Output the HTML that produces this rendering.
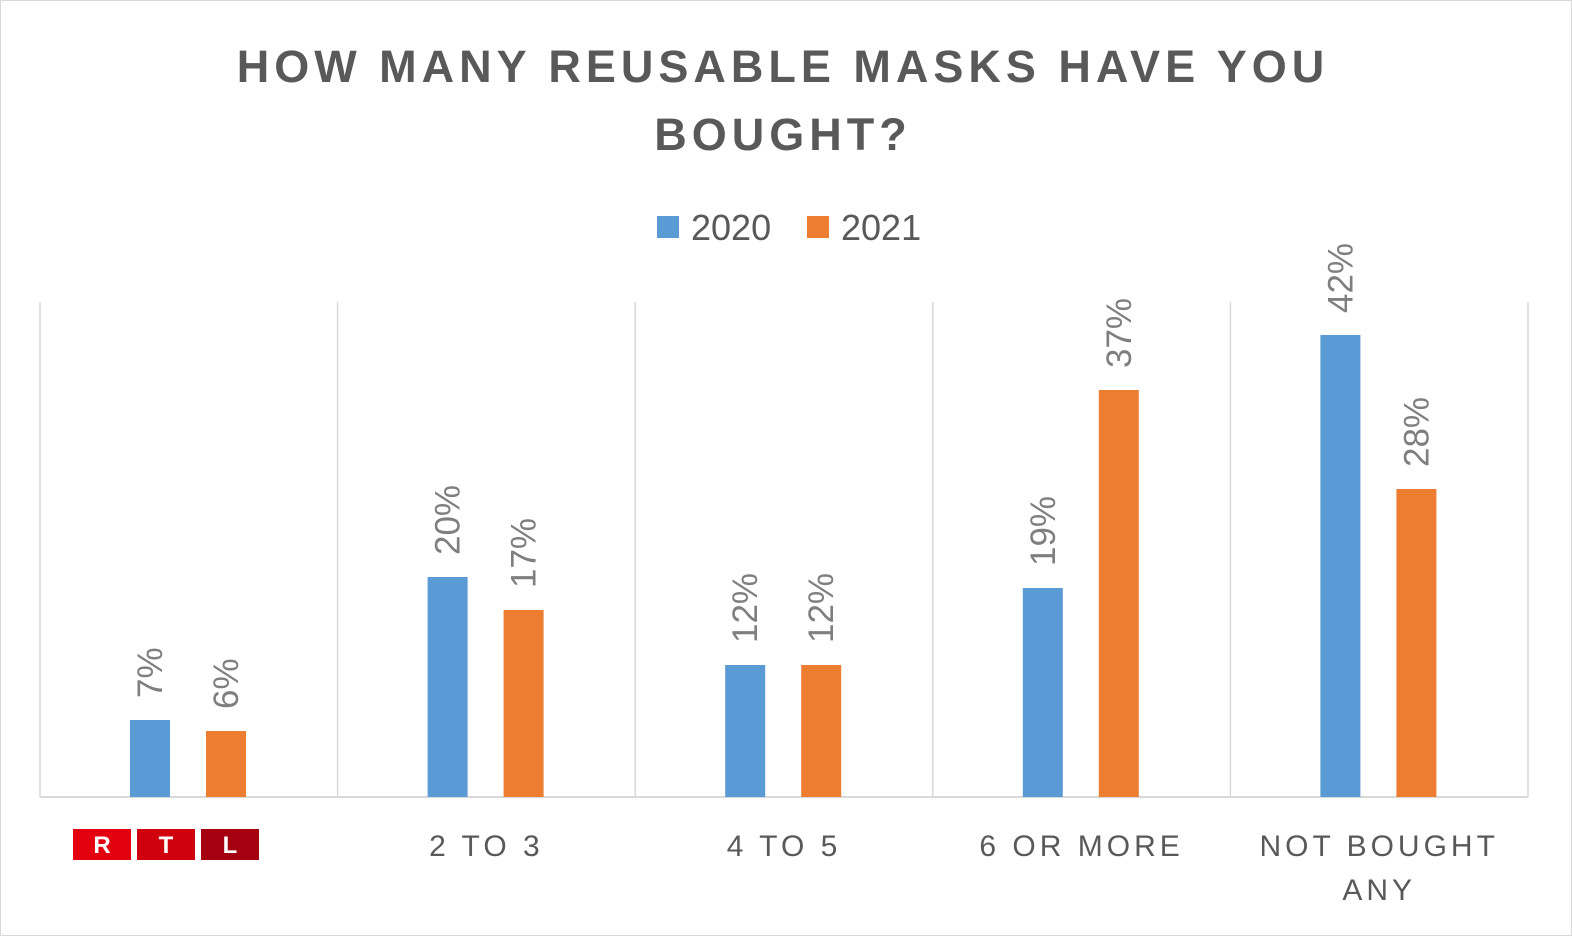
<!DOCTYPE html>
<html><head><meta charset="utf-8"><style>
body{margin:0;background:#fff;}
svg{display:block;font-family:"Liberation Sans",sans-serif;}
</style></head><body>
<svg id="chart" width="1572" height="936">
<rect x="0.5" y="0.5" width="1571" height="935" fill="#fff" stroke="#d9d9d9"/>
<text x="783" y="82" text-anchor="middle" font-size="45" font-weight="bold" fill="#595959" letter-spacing="5">HOW MANY REUSABLE MASKS HAVE YOU</text>
<text x="783" y="150" text-anchor="middle" font-size="45" font-weight="bold" fill="#595959" letter-spacing="5">BOUGHT?</text>
<rect x="657" y="216" width="22" height="22" fill="#5b9bd5"/>
<text x="691" y="240" font-size="36" fill="#595959">2020</text>
<rect x="807" y="216" width="22" height="22" fill="#ed7d31"/>
<text x="841" y="240" font-size="36" fill="#595959">2021</text>
<g id="grid"></g><g id="bars"></g><g id="labels"></g><g id="cats"></g>
<g>
<rect x="73" y="829" width="58" height="31" fill="#e3000f"/>
<rect x="137" y="829" width="58" height="31" fill="#d0000f"/>
<rect x="201" y="829" width="58" height="31" fill="#a50010"/>
<text x="102" y="853" text-anchor="middle" font-size="24" font-weight="bold" fill="#fff">R</text>
<text x="166" y="853" text-anchor="middle" font-size="24" font-weight="bold" fill="#fff">T</text>
<text x="230" y="853" text-anchor="middle" font-size="24" font-weight="bold" fill="#fff">L</text>
</g>
</svg>
<script>
const categories=[["1"],["2 TO 3"],["4 TO 5"],["6 OR MORE"],["NOT BOUGHT","ANY"]];
const values2020=[7,20,12,19,42];
const values2021=[6,17,12,37,28];
const yMax=45;
const NS="http://www.w3.org/2000/svg";
const plotLeft=40,plotRight=1528,plotBase=797,plotTop=302;
const cw=(plotRight-plotLeft)/categories.length;
const yScale=v=>plotBase-(plotBase-plotTop)*v/yMax;
const xScale=i=>plotLeft+i*cw;
function mk(t,a,p){const e=document.createElementNS(NS,t);for(const k in a)e.setAttribute(k,a[k]);p.appendChild(e);return e;}
const grid=document.getElementById('grid'),bars=document.getElementById('bars'),labels=document.getElementById('labels'),cats=document.getElementById('cats');
for(let i=0;i<=categories.length;i++){
  const l=mk('line',{x1:xScale(i),x2:xScale(i),y1:plotTop,y2:plotBase,stroke:'#d9d9d9','stroke-width':1.5},grid);
  
  
}
const ax=mk('line',{x1:plotLeft,x2:plotRight,y1:plotBase,y2:plotBase,stroke:'#d9d9d9','stroke-width':2},grid);


[[values2020,90,'#5b9bd5','2020'],[values2021,166,'#ed7d31','2021']].forEach(([vals,off,col,yr])=>{
  vals.forEach((v,i)=>{
    const bx=xScale(i)+off;
    const r=mk('rect',{x:bx,y:yScale(v),width:40,height:plotBase-yScale(v),fill:col},bars);
    
    
    const cx=bx+20+12,cy=yScale(v)-22;
    const t=mk('text',{x:cx,y:cy,'font-size':35,fill:'#7f7f7f',transform:`rotate(-90 ${cx} ${cy})`},labels);
    t.textContent=v+'%';
    
    
  });
});
categories.forEach((c,i)=>{
  if(i===0)return;
  c.forEach((ln,j)=>{
    const t=mk('text',{x:xScale(i)+cw/2,y:856+j*44,'text-anchor':'middle','font-size':30,fill:'#595959','letter-spacing':4},cats);
    t.textContent=ln;
    
    
  });
});
</script>
</body></html>
